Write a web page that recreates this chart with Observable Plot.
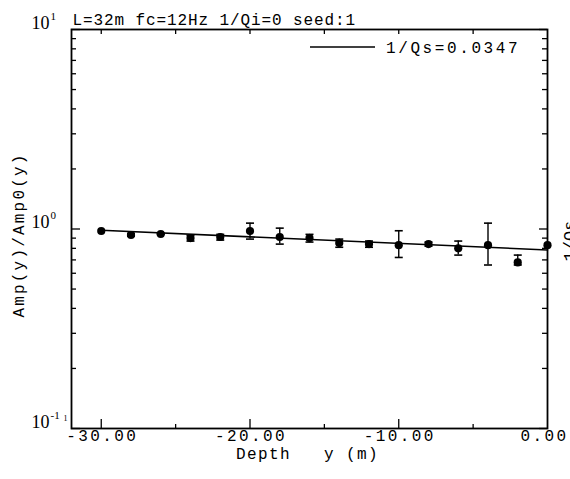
<!DOCTYPE html>
<html>
<head>
<meta charset="utf-8">
<script src="https://cdn.jsdelivr.net/npm/d3@7"></script>
<script src="https://cdn.jsdelivr.net/npm/@observablehq/plot@0.6"></script>
<style>
  html, body { margin: 0; padding: 0; background: #fff; }
  svg text { white-space: pre; }
  g[aria-description="xticklabels"] text { letter-spacing: 2.4px; }
  g[aria-description="title"] text { letter-spacing: 0.9px; }
  g[aria-description="xlabel"] text { letter-spacing: 1.4px; }
  g[aria-description="ylabel"] text { letter-spacing: 2.2px; }
</style>
</head>
<body>
<div id="chart"></div>
<script>
// ---- data ----
const depth  = [-30, -28, -26, -24, -22, -20, -18, -16, -14, -12, -10, -8, -6, -4, -2, 0];
const amp    = [0.977, 0.933, 0.944, 0.901, 0.912, 0.977, 0.912, 0.901, 0.850, 0.840, 0.830, 0.840, 0.800, 0.830, 0.680, 0.830];
const ampHi  = [0.977, 0.950, 0.950, 0.930, 0.940, 1.070, 1.010, 0.940, 0.890, 0.870, 0.980, 0.860, 0.870, 1.070, 0.740, 0.830];
const ampLo  = [0.977, 0.920, 0.940, 0.870, 0.880, 0.890, 0.840, 0.860, 0.810, 0.810, 0.720, 0.820, 0.740, 0.660, 0.660, 0.830];
const fitDepth = [-30, 0];
const fitAmp   = [0.985, 0.785];

const xMajorTicks = [-30, -20, -10];
const xMinorTicks = [-25, -15, -5];
const xTopTicks   = [-30, -25, -20, -15, -10, -5];
const xTickLabels = ["-30.00", "-20.00", "-10.00", "0.00"];
const xTickValues = [-30, -20, -10, 0];
const yMajorTicks = [0.1, 1, 10];
const yExponents  = ["-1", "0", "1"];
const yMinorTicks = [0.2, 0.3, 0.4, 0.5, 0.6, 0.7, 0.8, 0.9, 2, 3, 4, 5, 6, 7, 8, 9];

const titleText  = "L=32m fc=12Hz 1/Qi=0 seed:1";
const legendText = "1/Qs=0.0347";
const xLabelText = "Depth   y (m)";
const yLabelText = "Amp(y)/Amp0(y)";
const rightLabelText = "1/Qs";

// ---- build table ----
const points = depth.map((d, i) => ({depth: d, amp: amp[i], lo: ampLo[i], hi: ampHi[i]}));
const bars = points.filter(p => p.hi - p.lo > 0.005);
const fit = fitDepth.map((d, i) => ({depth: d, amp: fitAmp[i]}));
const xLabelRows = xTickValues.map((v, i) => ({v, label: xTickLabels[i]}));
const lastX = xLabelRows.length - 1;

const W = 570, H = 479, mT = 29, mB = 51, mL = 71, mR = 23;
const innerW = W - mL - mR, innerH = H - mT - mB;

const capSymbol = {
  draw(ctx, size) {
    const r = Math.sqrt(size / Math.PI);
    ctx.moveTo(-r, 0); ctx.lineTo(r, 0);
  }
};

const legendMark = (index, scales, values, dims) => {
  const g = d3.create("svg:g");
  const right = dims.width - dims.marginRight;
  const yy = dims.marginTop + 18;
  g.append("line").attr("x1", right - 237).attr("x2", right - 172)
    .attr("y1", yy).attr("y2", yy).attr("stroke", "black").attr("stroke-width", 1.4);
  g.append("text").attr("x", right - 161).attr("y", yy).attr("dy", "0.35em")
    .attr("text-anchor", "start")
    .attr("font-family", "Liberation Mono").attr("font-size", 16)
    .style("letter-spacing", "2.6px").attr("fill", "black").text(legendText);
  return g.node();
};

const chart = Plot.plot({
  width: W, height: H,
  marginTop: mT, marginBottom: mB, marginLeft: mL, marginRight: mR,
  x: {domain: [-32, 0], axis: null},
  y: {type: "log", domain: [0.1, 10], axis: null},
  style: {fontFamily: "Liberation Mono", background: "white", color: "black", overflow: "hidden"},
  marks: [
    // ticks (inward)
    Plot.tickX(xMajorTicks, {x: d => d, insetTop: innerH - 9, stroke: "black", strokeWidth: 1.3}),
    Plot.tickX(xMinorTicks, {x: d => d, insetTop: innerH - 4, stroke: "black", strokeWidth: 1.3}),
    Plot.tickX(xTopTicks, {x: d => d, insetBottom: innerH - 5, stroke: "black", strokeWidth: 1.3}),
    Plot.tickY(yMajorTicks, {y: d => d, insetRight: innerW - 9, stroke: "black", strokeWidth: 1.3}),
    Plot.tickY(yMinorTicks, {y: d => d, insetRight: innerW - 5, stroke: "black", strokeWidth: 1.3}),
    Plot.tickY(yMajorTicks, {y: d => d, insetLeft: innerW - 8, stroke: "black", strokeWidth: 1.3}),
    Plot.tickY(yMinorTicks, {y: d => d, insetLeft: innerW - 5, stroke: "black", strokeWidth: 1.3}),
    Plot.frame({stroke: "black", strokeWidth: 1.8}),
    // fit line
    Plot.line(fit, {x: "depth", y: "amp", stroke: "black", strokeWidth: 1.6}),
    // error bars
    Plot.ruleX(bars, {x: "depth", y1: "lo", y2: "hi", stroke: "black", strokeWidth: 1.4}),
    Plot.dot(bars, {x: "depth", y: "lo", symbol: capSymbol, r: 4, stroke: "black", strokeWidth: 1.6}),
    Plot.dot(bars, {x: "depth", y: "hi", symbol: capSymbol, r: 4, stroke: "black", strokeWidth: 1.6}),
    // points
    Plot.dot(points, {x: "depth", y: "amp", r: 4.1, fill: "black", stroke: "none"}),
    // x tick labels
    Plot.text(xLabelRows.slice(0, lastX), {x: "v", text: "label", frameAnchor: "bottom", dx: 1, dy: 12,
      textAnchor: "middle", fontSize: 16, fill: "black", ariaDescription: "xticklabels"}),
    Plot.text(xLabelRows.slice(lastX), {x: "v", text: "label", frameAnchor: "bottom", dx: 21, dy: 12,
      textAnchor: "end", fontSize: 16, fill: "black", ariaDescription: "xticklabels"}),
    // y tick labels 10^n
    Plot.text(yMajorTicks, {y: d => d, text: () => "10", frameAnchor: "left", dx: -22, dy: -1,
      textAnchor: "end", lineAnchor: "bottom", fontFamily: "Liberation Serif", fontSize: 18, fill: "black"}),
    Plot.text(yMajorTicks, {y: d => d, text: (d, i) => yExponents[i], frameAnchor: "left", dx: -21, dy: -10,
      textAnchor: "start", lineAnchor: "bottom", fontFamily: "Liberation Serif", fontSize: 11, fill: "black"}),
    // axis labels and title
    Plot.text([xLabelText], {frameAnchor: "bottom", dx: -2, dy: 30, textAnchor: "middle", fontSize: 16, fill: "black", ariaDescription: "xlabel"}),
    Plot.text([yLabelText], {frameAnchor: "left", dx: -53, dy: 6, rotate: -90, textAnchor: "middle", fontSize: 16, fill: "black", ariaDescription: "ylabel"}),
    Plot.text([titleText], {frameAnchor: "top-left", dx: 1, dy: -16, textAnchor: "start", fontSize: 16, fill: "black", ariaDescription: "title"}),
    Plot.text([rightLabelText], {frameAnchor: "right", dx: 22, dy: 12, rotate: -90, textAnchor: "middle", fontSize: 17, fill: "black"}),
    Plot.text(["1"], {frameAnchor: "bottom-left", dx: -6, dy: -8, textAnchor: "middle", fontFamily: "Liberation Serif", fontSize: 8, fill: "black"}),
    legendMark
  ]
});

document.getElementById("chart").append(chart);
</script>
</body>
</html>
